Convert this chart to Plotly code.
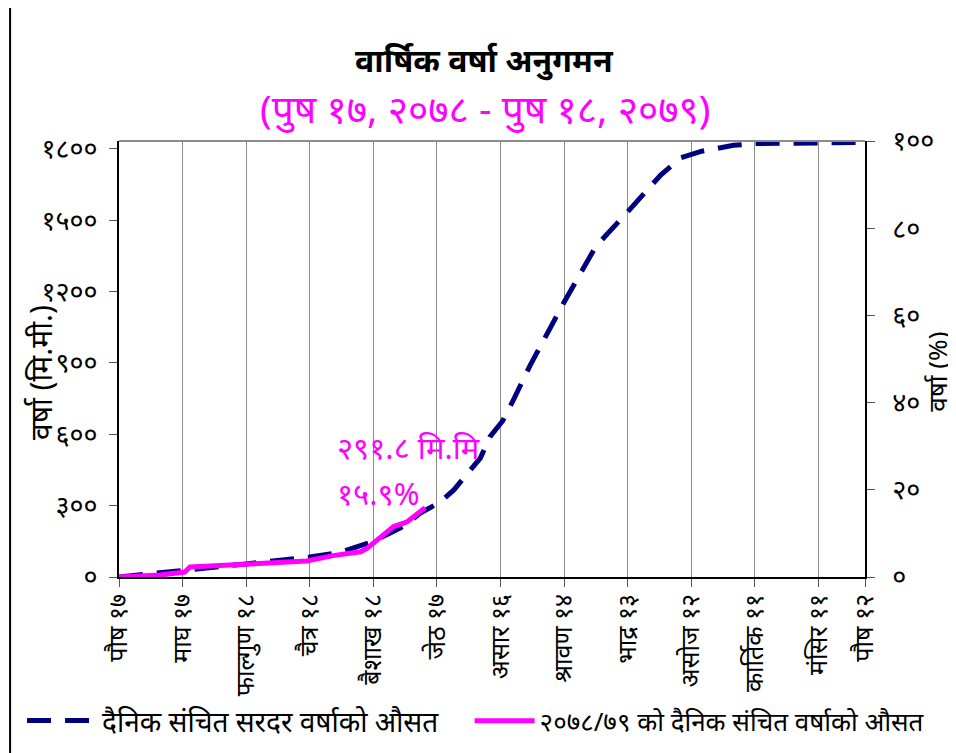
import plotly.graph_objects as go

# x in days from Poush 17 2078
tick_days = [0, 30, 60, 90, 120, 150, 180, 210, 240, 270, 300, 330, 352]
tick_labels = ["पौष १७", "माघ १७", "फाल्गुण १८", "चैत्र १८", "बैशाख १८", "जेठ १७", "असार १६",
               "श्रावण १४", "भाद्र १३", "असोज १२", "कार्तिक ११", "मंसिर ११", "पौष १२"]

left_vals = [0, 300, 600, 900, 1200, 1500, 1800]
left_text = ["०", "३००", "६००", "९००", "१२००", "१५००", "१८००"]
right_vals = [0, 20, 40, 60, 80, 100]
right_text = ["०", "२०", "४०", "६०", "८०", "१००"]

# normal daily cumulative rainfall (mm)
normal_day = [0, 15, 30, 38, 60, 76, 90, 104, 120, 128, 135, 142, 151.6, 158, 165, 170.5,
              175, 181, 186, 194, 210, 225, 240, 255.6, 265, 275, 290, 300, 330, 352]
normal_mm = [0, 12, 28, 35, 55, 70, 84, 103, 150, 185, 217, 268, 315, 366, 442, 500,
             589, 656, 743, 890, 1155, 1390, 1535, 1690, 1762, 1790, 1815, 1822, 1825, 1827]

# 2078/79 daily cumulative rainfall (mm)
actual_day = [0, 19.4, 31, 33.5, 38, 62, 76, 88.6, 101, 114, 117, 125, 129.6, 136, 144.5]
actual_mm = [0, 8, 21, 42, 44, 56, 60, 67, 90, 106, 120, 177, 212, 232, 291.8]

font = "Noto Sans, DejaVu Sans, sans-serif"

fig = go.Figure()
fig.add_trace(go.Scatter(x=normal_day, y=normal_mm, mode="lines",
                         name="दैनिक संचित सरदर वर्षाको औसत", legend="legend",
                         line=dict(color="#00007F", width=5, dash="24px,14px")))
fig.add_trace(go.Scatter(x=actual_day, y=actual_mm, mode="lines",
                         name="२०७८/७९ को दैनिक संचित वर्षाको औसत", legend="legend2",
                         line=dict(color="#FF00FF", width=5)))
fig.add_trace(go.Scatter(x=[0], y=[0], yaxis="y2", mode="markers",
                         marker=dict(opacity=0), showlegend=False, hoverinfo="skip"))

# value labels
fig.add_annotation(x=102, y=547, xref="x", yref="y", text="२९१.८ मि.मि",
                   showarrow=False, xanchor="left", font=dict(size=31, color="#FF00FF"))
fig.add_annotation(x=102, y=355, xref="x", yref="y", text="१५.९%",
                   showarrow=False, xanchor="left", font=dict(size=31, color="#FF00FF"))

# titles
fig.add_annotation(x=0.49, y=1.186, xref="paper", yref="paper", yanchor="middle",
                   text="<b>वार्षिक वर्षा अनुगमन</b>", showarrow=False,
                   font=dict(size=32, color="black"))
fig.add_annotation(x=0.49, y=1.076, xref="paper", yref="paper", yanchor="middle",
                   text="(पुष १७, २०७८ - पुष १८, २०७९)", showarrow=False,
                   font=dict(size=39, color="#FF00FF"))
# axis titles
fig.add_annotation(x=-0.106, y=0.47, xref="paper", yref="paper", textangle=-90,
                   xanchor="center", yanchor="middle",
                   text="वर्षा (मि.मी.)", showarrow=False, font=dict(size=30, color="black"))
fig.add_annotation(x=1.096, y=0.47, xref="paper", yref="paper", textangle=-90,
                   xanchor="center", yanchor="middle",
                   text="वर्षा (%)", showarrow=False, font=dict(size=26, color="black"))

legend_style = dict(orientation="h", xanchor="left", yanchor="middle", y=-0.33,
                    bgcolor="rgba(0,0,0,0)")

# page body has an 8px margin, so the figure margins are shifted by that
fig.update_layout(
    width=956, height=753,
    paper_bgcolor="white", plot_bgcolor="white",
    font=dict(family=font, color="black"),
    margin=dict(l=111, r=99, t=133, b=184, autoexpand=False),
    xaxis=dict(range=[0, 352], tickvals=tick_days, ticktext=tick_labels, tickangle=-90,
               showgrid=True, gridcolor="#8C8C8C", gridwidth=1, automargin=False,
               showline=True, linecolor="black", linewidth=2, mirror=False,
               ticks="outside", ticklen=8, tickcolor="#555555",
               tickfont=dict(size=25), ticklabelstandoff=-3, zeroline=False),
    yaxis=dict(range=[0, 1833], tickvals=left_vals, ticktext=left_text,
               showgrid=False, zeroline=False, automargin=False,
               showline=True, linecolor="black", linewidth=2,
               ticks="outside", ticklen=8, tickcolor="#555555",
               tickfont=dict(size=27), ticklabelstandoff=6),
    yaxis2=dict(range=[0, 100], overlaying="y", side="right", tickvals=right_vals,
                ticktext=right_text, showgrid=False, zeroline=False, automargin=False,
                showline=True, linecolor="black", linewidth=1.5,
                ticks="outside", ticklen=8, tickcolor="#555555",
                tickfont=dict(size=27), ticklabelstandoff=12),
    legend=dict(x=-0.13, itemwidth=70, font=dict(size=28), **legend_style),
    legend2=dict(x=0.47, itemwidth=60, font=dict(size=26), **legend_style),
    showlegend=True,
)

# top border of plot
fig.add_shape(type="line", xref="paper", yref="paper", x0=0, x1=1, y0=1, y1=1,
              line=dict(color="#8C8C8C", width=2))
# outer frame
fig.add_shape(type="line", xref="paper", yref="paper", x0=-0.146, x1=-0.146, y0=-0.45, y1=1.35,
              line=dict(color="black", width=2))

fig.write_html("out.html")
